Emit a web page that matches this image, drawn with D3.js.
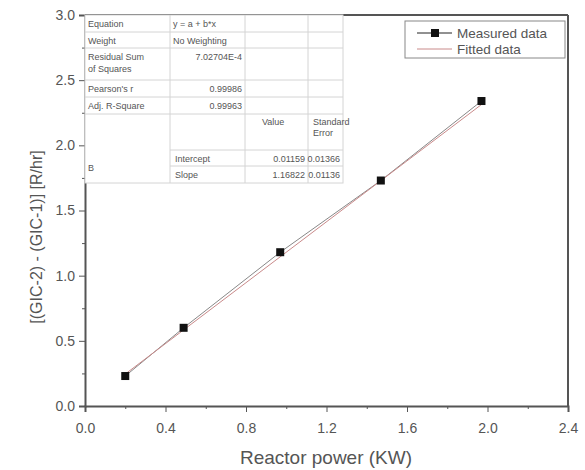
<!DOCTYPE html>
<html>
<head>
<meta charset="utf-8">
<script src="https://cdn.jsdelivr.net/npm/d3@7"></script>
<style>
  body { margin: 0; background: #fff; }
  text { font-family: "Liberation Sans", Arial, sans-serif; }
</style>
</head>
<body>
<svg id="chart" width="585" height="470"></svg>
<script>
// Measured points
const power = [0.2, 0.49, 0.97, 1.47, 1.97];
const dose = [0.23, 0.6, 1.18, 1.73, 2.34];

// Linear fit results
const intercept = 0.01159;
const slope = 1.16822;

const xTicks = [0, 0.4, 0.8, 1.2, 1.6, 2.0, 2.4];
const yTicks = [0, 0.5, 1.0, 1.5, 2.0, 2.5, 3.0];

// Fit summary table rows
const statLabels = ["Equation", "Weight", "Residual Sum\nof Squares", "Pearson's r", "Adj. R-Square"];
const statValues = ["y = a + b*x", "No Weighting", "7.02704E-4", "0.99986", "0.99963"];
const paramNames = ["Intercept", "Slope"];
const paramValues = ["0.01159", "1.16822"];
const paramErrors = ["0.01366", "0.01136"];

const margin = { top: 15, right: 17, bottom: 64, left: 85 };
const width = 585 - margin.left - margin.right;
const height = 470 - margin.top - margin.bottom;

const svg = d3.select("#chart");
const g = svg.append("g").attr("transform", `translate(${margin.left},${margin.top})`);

const x = d3.scaleLinear().domain([0, 2.4]).range([0, width]);
const y = d3.scaleLinear().domain([0, 3.0]).range([height, 0]);

const axisColor = "#555";
const textColor = "#555";

// minor ticks
g.append("g")
  .attr("transform", `translate(0,${height})`)
  .call(d3.axisBottom(x).tickValues(d3.range(0.2, 2.4, 0.4)).tickSize(3).tickFormat(""))
  .call((a) => a.select(".domain").remove())
  .selectAll("line").attr("stroke", axisColor);
g.append("g")
  .call(d3.axisLeft(y).tickValues(d3.range(0.25, 3.0, 0.5)).tickSize(3).tickFormat(""))
  .call((a) => a.select(".domain").remove())
  .selectAll("line").attr("stroke", axisColor);

// major axes
const xAxis = g.append("g")
  .attr("transform", `translate(0,${height})`)
  .call(d3.axisBottom(x).tickValues(xTicks).tickSize(6).tickFormat(d3.format(".1f")));
const yAxis = g.append("g")
  .call(d3.axisLeft(y).tickValues(yTicks).tickSize(6).tickFormat(d3.format(".1f")));

[xAxis, yAxis].forEach((a) => {
  a.select(".domain").attr("stroke", axisColor).attr("stroke-width", 2);
  a.selectAll(".tick line").attr("stroke", axisColor);
  a.selectAll(".tick text").attr("fill", textColor).style("font-size", "14px");
});
xAxis.selectAll(".tick text").attr("dy", "1.3em");
yAxis.selectAll(".tick text").attr("x", -10);

// top and right frame
g.append("line").attr("x1", 0).attr("x2", width).attr("y1", 0).attr("y2", 0)
  .attr("stroke", axisColor).attr("stroke-width", 2);
g.append("line").attr("x1", width).attr("x2", width).attr("y1", 0).attr("y2", height)
  .attr("stroke", axisColor).attr("stroke-width", 2);

// axis titles
svg.append("text")
  .attr("x", 326)
  .attr("y", 464)
  .attr("text-anchor", "middle")
  .attr("fill", textColor)
  .style("font-size", "19px")
  .text("Reactor power (KW)");
svg.append("text")
  .attr("transform", `translate(42,237) rotate(-90)`)
  .attr("text-anchor", "middle")
  .attr("fill", textColor)
  .style("font-size", "16px")
  .text("[(GIC-2) - (GIC-1)] [R/hr]");

// fit summary table
const tbl = g.append("g").attr("class", "fit-table");
const tw = 258, colA = 85, colB = 160, colC = 223;
const rowY = [0, 17, 33, 65, 82, 99, 135, 151, 168];
const gridColor = "#d4d4d4";
const tf = "9px";

tbl.append("rect").attr("x", 0).attr("y", 0).attr("width", tw).attr("height", rowY[8])
  .attr("fill", "#fff").attr("stroke", gridColor);
rowY.slice(1, 6).forEach((ry) => {
  tbl.append("line").attr("x1", 0).attr("x2", tw).attr("y1", ry).attr("y2", ry).attr("stroke", gridColor);
});
tbl.append("line").attr("x1", colA).attr("x2", tw).attr("y1", rowY[6]).attr("y2", rowY[6]).attr("stroke", gridColor);
tbl.append("line").attr("x1", colA).attr("x2", tw).attr("y1", rowY[7]).attr("y2", rowY[7]).attr("stroke", gridColor);
tbl.append("line").attr("x1", colA).attr("x2", colA).attr("y1", 0).attr("y2", rowY[8]).attr("stroke", gridColor);
[colB, colC].forEach((cx) => {
  tbl.append("line").attr("x1", cx).attr("x2", cx).attr("y1", 0).attr("y2", rowY[8]).attr("stroke", gridColor);
});

statLabels.forEach((lab, i) => {
  const t = tbl.append("text").attr("x", 3).attr("y", rowY[i] + 12)
    .attr("fill", textColor).style("font-size", tf);
  lab.split("\n").forEach((ln, k) => {
    t.append("tspan").attr("x", 3).attr("dy", k === 0 ? 0 : 12).text(ln);
  });
  const leftAligned = i < 2;
  tbl.append("text")
    .attr("x", leftAligned ? colA + 3 : colB - 3)
    .attr("y", rowY[i] + 12)
    .attr("text-anchor", leftAligned ? "start" : "end")
    .attr("fill", textColor).style("font-size", tf)
    .text(statValues[i]);
});

tbl.append("text").attr("x", colB + 17).attr("y", rowY[5] + 11)
  .attr("fill", textColor).style("font-size", tf).text("Value");
tbl.append("text").attr("x", colC + 5).attr("y", rowY[5] + 11)
  .attr("fill", textColor).style("font-size", tf)
  .call((t) => {
    t.append("tspan").attr("x", colC + 5).text("Standard");
    t.append("tspan").attr("x", colC + 5).attr("dy", 11).text("Error");
  });
tbl.append("text").attr("x", 3).attr("y", (rowY[6] + rowY[8]) / 2 + 4)
  .attr("fill", textColor).style("font-size", tf).text("B");
paramNames.forEach((nm, i) => {
  const ty = rowY[6 + i] + 12;
  tbl.append("text").attr("x", colA + 5).attr("y", ty).attr("fill", textColor).style("font-size", tf).text(nm);
  tbl.append("text").attr("x", colC - 3).attr("y", ty).attr("text-anchor", "end")
    .attr("fill", textColor).style("font-size", tf).text(paramValues[i]);
  tbl.append("text").attr("x", tw - 3).attr("y", ty).attr("text-anchor", "end")
    .attr("fill", textColor).style("font-size", tf).text(paramErrors[i]);
});

// measured data line and fitted line
const pts = power.map((p, i) => ({ p, d: dose[i] }));
g.append("path").datum(pts)
  .attr("fill", "none").attr("stroke", "#888").attr("stroke-width", 1)
  .attr("d", d3.line().x((d) => x(d.p)).y((d) => y(d.d)));
const fitX = d3.extent(power);
g.append("path").datum(fitX)
  .attr("fill", "none").attr("stroke", "#c98a8a").attr("stroke-width", 1)
  .attr("d", d3.line().x((d) => x(d)).y((d) => y(intercept + slope * d)));

g.selectAll(".pt").data(pts).enter().append("rect")
  .attr("class", "pt")
  .attr("x", (d) => x(d.p) - 4).attr("y", (d) => y(d.d) - 4)
  .attr("width", 8).attr("height", 8).attr("fill", "#111");

// legend
const lg = g.append("g").attr("transform", `translate(${width - 163},6)`);
lg.append("rect").attr("width", 160).attr("height", 37).attr("fill", "#fff")
  .attr("stroke", "#888");
lg.append("line").attr("x1", 12).attr("x2", 47).attr("y1", 12).attr("y2", 12).attr("stroke", "#222");
lg.append("rect").attr("x", 26).attr("y", 8).attr("width", 8).attr("height", 8).attr("fill", "#111");
lg.append("line").attr("x1", 12).attr("x2", 47).attr("y1", 28).attr("y2", 28).attr("stroke", "#c98a8a");
lg.append("text").attr("x", 52).attr("y", 17).attr("fill", textColor).style("font-size", "13.5px").text("Measured data");
lg.append("text").attr("x", 52).attr("y", 33).attr("fill", textColor).style("font-size", "13.5px").text("Fitted data");
</script>
</body>
</html>
